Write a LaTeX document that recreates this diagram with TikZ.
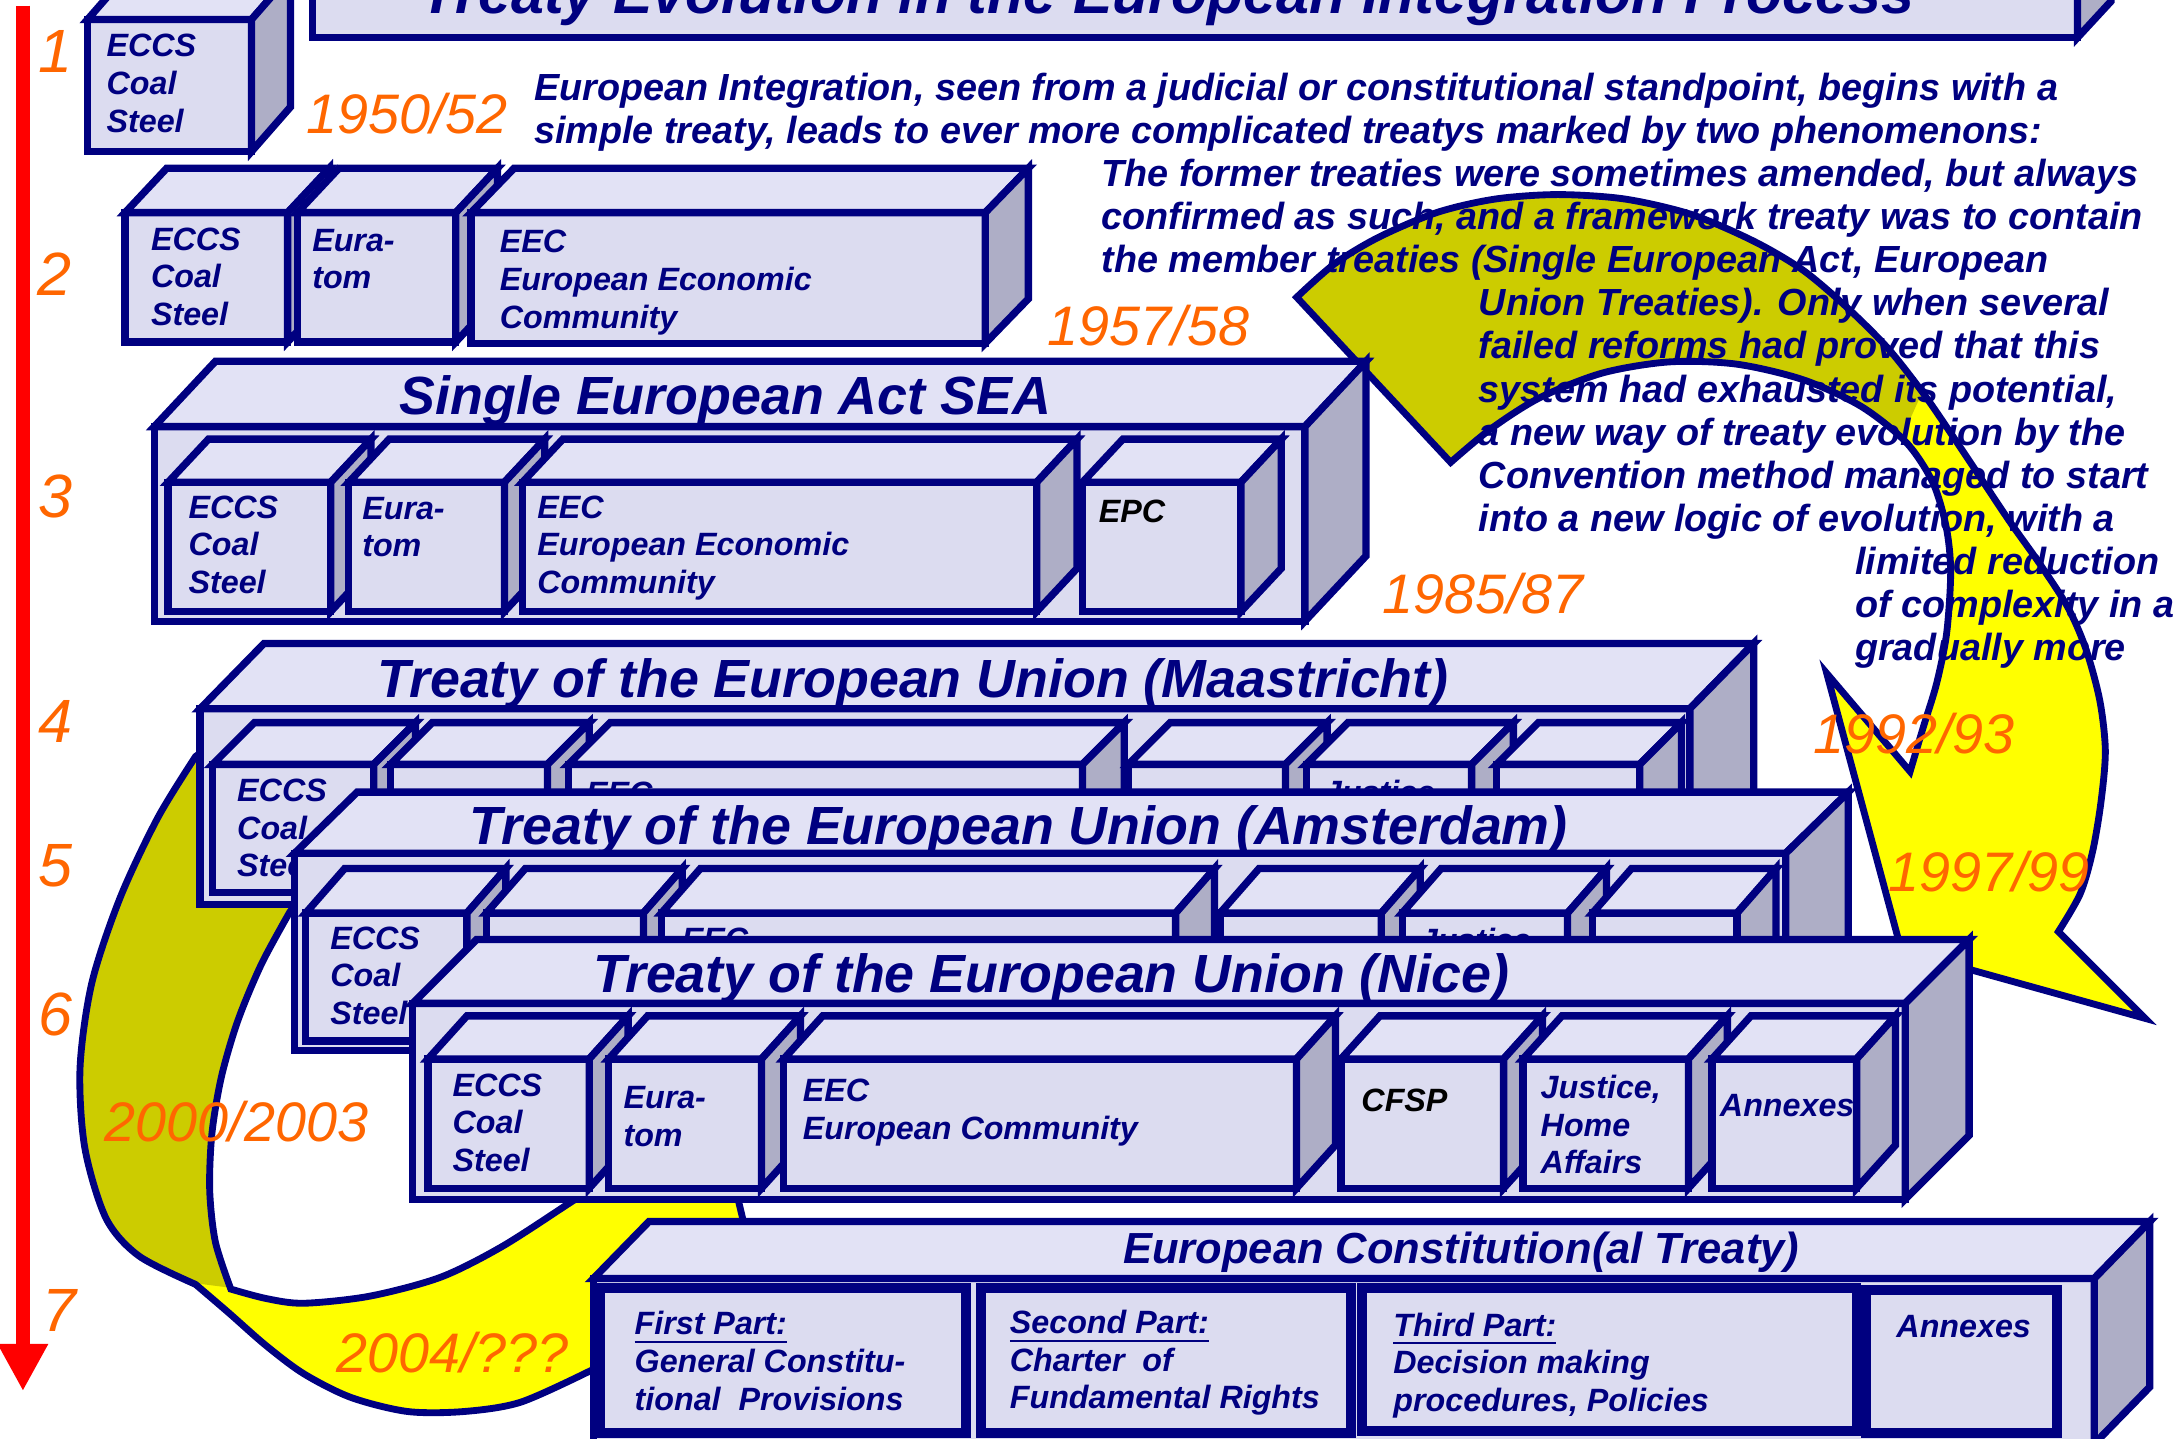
\documentclass[tikz,border=0pt]{standalone}
\usepackage{fontspec}
\setmainfont{Liberation Sans}
\usetikzlibrary{arrows.meta}
\definecolor{navy}{HTML}{000080}
\definecolor{boxfront}{HTML}{DCDCF0}
\definecolor{boxtop}{HTML}{E2E2F5}
\definecolor{boxside}{HTML}{AEAEC6}
\definecolor{bandolive}{HTML}{CCCC00}
\definecolor{bandyellow}{HTML}{FFFF00}
\definecolor{yearorange}{HTML}{FF6600}
\newcommand{\cuboid}[6]{%
  \filldraw[boxline, fill=boxfront] (#1,#2) rectangle (#3,#4);
  \filldraw[boxline, fill=boxtop] (#1,#2) -- ++(#5,-#6) -- (#3+#5,#2-#6) -- (#3,#2) -- cycle;
  \filldraw[boxline, fill=boxside] (#3,#2) -- ++(#5,-#6) -- (#3+#5,#4-#6) -- (#3,#4) -- cycle;
}
\begin{document}
\begin{tikzpicture}[x=0.01cm, y=-0.01cm,
    boxline/.style={draw=navy, line width=1.5pt},
    bandline/.style={draw=navy, line width=1.4pt},
    partbox/.style={draw=navy, fill=boxfront, line width=2pt},
    boxtext/.style={anchor=north west, inner sep=0pt, align=left, text=navy, font=\fontsize{6.6}{7.7}\selectfont\bfseries\itshape},
    headtext/.style={anchor=base, inner sep=0pt, text=navy, font=\fontsize{11}{13}\selectfont\bfseries\itshape},
    introtext/.style={anchor=base west, inner sep=0pt, text=navy, font=\fontsize{7.73}{9}\selectfont\bfseries\itshape},
    yeartext/.style={inner sep=0pt, text=yearorange, font=\fontsize{11.4}{13}\selectfont\itshape},
    stagetext/.style={inner sep=0pt, text=yearorange, font=\fontsize{12.5}{14}\selectfont\itshape},
    timeline/.style={draw=red, line width=2.8pt, -{Triangle[length=0.34cm, width=0.34cm]}}]
    \useasboundingbox (0,0) rectangle (1568,1035);
    \clip (0,0) rectangle (1568,1035);

    \def\rband{(933.1,213.9) -- plot[smooth] coordinates {(933.1,213.9) (960.4,189.8) (992.5,170.5) (1034.3,152.8) (1076.1,143.2) (1121.0,140.0) (1169.2,143.2) (1217.4,154.4) (1262.3,173.7) (1297.7,194.6) (1329.8,221.9) (1358.7,250.8) (1384,283) (1406,315) (1426,345) (1446,375) (1468,406) (1488,437) (1501,467) (1511,504) (1515,540) (1512,576) (1506,612) (1497,643) (1481.2,670.4)} -- (1543.6,732.8) -- (1368.2,683.9) -- (1314.5,484.5) -- (1374.5,555.2) -- plot[smooth] coordinates {(1374.5,555.2) (1384.1,522.9) (1393.6,491.7) (1400.8,455.7) (1403.7,411.4) (1400.5,379.3) (1390.8,347.1) (1371.6,318.2) (1339.4,292.5) (1297.7,273.3) (1249.5,262.0) (1201.3,260.4) (1153.1,268.4) (1108.2,286.1) (1072.8,308.6) (1043.9,332.7)} -- cycle}
    \fill[bandyellow] \rband;
    \begin{scope}
        \clip \rband;
        \fill[bandolive] (900,100) -- (1432.4,173.8) -- (1320.4,420.9) -- (900,421) -- cycle;
    \end{scope}
    \draw[bandline] \rband;

    \def\lband{(160,530) -- (140.7,544.4) -- plot[smooth] coordinates {(140.7,544.4) (113.5,588.5) (86.4,646.1) (66.1,707.2) (57.6,768.2) (61,825.8) (76.3,876.7) (100,903.8) (140.7,924.2)} -- plot[smooth] coordinates {(140.7,924.2) (164.4,944.5) (191.5,968.3) (218.7,988.6) (252.6,1005.6) (293.3,1015.7) (334,1015.7) (374.7,1009) (423.8,986.9)} -- (470,965) -- (565,935) -- (540,900) -- (528,850) -- (470,848) -- (420,859) -- plot[smooth] coordinates {(420,859) (408.6,866.5) (361.1,897.1) (317,919.1) (266.1,932.7) (218.7,937.8) (191.5,934.4) (166.1,927.6)} -- plot[smooth] coordinates {(166.1,927.6) (155,893.7) (150.9,856.4) (152.5,815.7) (159.3,775) (171.2,734.3) (188.2,693.6) (208.5,656.3)} -- (230,630) -- (200,560) -- cycle}
    \fill[bandyellow] \lband;
    \begin{scope}
        \clip \lband;
        \fill[bandolive] (0,300) -- (235,300) -- (235,935.5) -- (0,905.4) -- cycle;
    \end{scope}
    \draw[bandline] \lband;

    \cuboid{225}{-80}{1495}{27}{24}{26}
    \node[headtext, font=\fontsize{12.1}{14}\selectfont\bfseries\itshape] (title) at (840,10) {Treaty Evolution in the European Integration Process};

    \cuboid{63}{14}{181}{109}{28}{32}
    \node[boxtext] (eccsA) at (76,24) {ECCS\\Coal\\Steel};

    \cuboid{90}{153}{207}{246}{30}{32}
    \cuboid{214}{153}{328}{246}{30}{32}
    \cuboid{339}{153}{709}{247}{31}{32}
    \node[boxtext] (eccsB) at (108,163) {ECCS\\Coal\\Steel};
    \node[boxtext] (euratomB) at (224,164) {Eura-\\tom};
    \node[boxtext] (eecB) at (359,165) {EEC\\European Economic\\Community};

    \cuboid{111}{307}{939}{447}{44}{47}
    \node[headtext] (sea) at (522,298.6) {Single European Act SEA};
    \cuboid{121}{347}{238}{440}{29}{31}
    \cuboid{251}{347}{363}{440}{29}{31}
    \cuboid{376}{347}{746}{440}{29}{31}
    \cuboid{779}{347}{893}{440}{29}{31}
    \node[boxtext] (eccsC) at (135,356) {ECCS\\Coal\\Steel};
    \node[boxtext] (euratomC) at (260,357) {Eura-\\tom};
    \node[boxtext] (eecC) at (386,356) {EEC\\European Economic\\Community};
    \node[boxtext, text=black] (epcC) at (790,359) {EPC};

    \cuboid{144}{510}{1216}{651}{46}{47}
    \node[headtext] (maastricht) at (657,502) {Treaty of the European Union (Maastricht)};
    \cuboid{153}{550}{269}{642}{30}{30}
    \cuboid{281}{550}{394}{642}{30}{30}
    \cuboid{409}{550}{779}{642}{30}{30}
    \cuboid{812}{550}{925}{642}{30}{30}
    \cuboid{940}{550}{1059}{642}{30}{30}
    \cuboid{1077}{550}{1180}{642}{30}{30}
    \node[boxtext] (eccsD) at (170,560) {ECCS\\Coal\\Steel};
    \node[boxtext] (eecD) at (421,562) {EEC};
    \node[boxtext] (justiceD) at (952,561) {Justice,};

    \cuboid{212}{614}{1285}{756}{45}{44}
    \node[headtext] (amsterdam) at (733,607.5) {Treaty of the European Union (Amsterdam)};
    \cuboid{220}{657}{336}{749}{28}{32}
    \cuboid{350}{657}{463}{749}{28}{32}
    \cuboid{476}{657}{846}{749}{28}{32}
    \cuboid{878}{657}{994}{749}{28}{32}
    \cuboid{1009}{657}{1128}{749}{28}{32}
    \cuboid{1146}{657}{1250}{749}{28}{32}
    \node[boxtext] (eccsE) at (237,666) {ECCS\\Coal\\Steel};
    \node[boxtext] (eecE) at (490,667) {EEC};
    \node[boxtext] (justiceE) at (1021,667) {Justice,};

    \cuboid{297}{722}{1371}{863}{46}{46}
    \node[headtext] (nice) at (756.5,714) {Treaty of the European Union (Nice)};
    \cuboid{308}{762}{424}{855}{28}{31}
    \cuboid{438}{762}{548}{855}{28}{31}
    \cuboid{564}{762}{933}{855}{28}{31}
    \cuboid{965}{762}{1082}{855}{28}{31}
    \cuboid{1096}{762}{1215}{855}{28}{31}
    \cuboid{1232}{762}{1336}{855}{28}{31}
    \node[boxtext] (eccsF) at (325,772) {ECCS\\Coal\\Steel};
    \node[boxtext] (euratomF) at (448,781) {Eura-\\tom};
    \node[boxtext] (eecF) at (577,776) {EEC\\European Community};
    \node[boxtext, text=black] (cfspF) at (979,783) {CFSP};
    \node[boxtext] (justiceF) at (1108,773) {Justice,\\Home\\Affairs};
    \node[boxtext] (annexF) at (1237,787) {Annexes};

    \cuboid{427}{920}{1507}{1039}{40}{41}
    \node[headtext, font=\fontsize{8.9}{10}\selectfont\bfseries\itshape] (constitution) at (1051.5,909) {European Constitution(al Treaty)};
    \filldraw[partbox] (432,927) rectangle (695,1031);
    \filldraw[partbox] (706,927) rectangle (972,1031);
    \filldraw[partbox] (980,927) rectangle (1336,1030);
    \filldraw[partbox] (1343,928) rectangle (1480,1031);
    \node[boxtext] (partone) at (456,943) {\underline{First Part:}\\General Constitu-\\tional\ \ Provisions};
    \node[boxtext] (parttwo) at (726,942) {\underline{Second Part:}\\Charter\ \ of\\Fundamental Rights};
    \node[boxtext] (partthree) at (1002,944) {\underline{Third Part:}\\Decision making\\procedures, Policies};
    \node[boxtext] (partannex) at (1364,946) {Annexes};

    \node[introtext] (intro1) at (383.7,72.3) {European Integration, seen from a judicial or constitutional standpoint, begins with a};
    \node[introtext] (intro2) at (383.7,103.3) {simple treaty, leads to ever more complicated treatys marked by two phenomenons:};
    \node[introtext] (intro3) at (792,134.3) {The former treaties were sometimes amended, but always};
    \node[introtext] (intro4) at (792,165.3) {confirmed as such, and a framework treaty was to contain};
    \node[introtext] (intro5) at (792,196.3) {the member treaties (Single European Act, European};
    \node[introtext] (intro6) at (1063.5,227.3) {Union Treaties). Only when several};
    \node[introtext] (intro7) at (1063.5,258.3) {failed reforms had proved that this};
    \node[introtext] (intro8) at (1063.5,289.3) {system had exhausted its potential,};
    \node[introtext] (intro9) at (1063.5,320.3) {a new way of treaty evolution by the};
    \node[introtext] (intro10) at (1063.5,351.3) {Convention method managed to start};
    \node[introtext] (intro11) at (1063.5,382.3) {into a new logic of evolution, with a};
    \node[introtext] (intro12) at (1334.3,413.3) {limited reduction};
    \node[introtext] (intro13) at (1334.3,444.3) {of complexity in a};
    \node[introtext] (intro14) at (1334.3,475.3) {gradually more};

    \node[yeartext] (y1950) at (292.9,81.6) {1950/52};
    \node[yeartext] (y1957) at (826.4,234.5) {1957/58};
    \node[yeartext] (y1985) at (1067.2,427.4) {1985/87};
    \node[yeartext] (y1992) at (1377.5,527.7) {1992/93};
    \node[yeartext] (y1997) at (1431.4,627.2) {1997/99};
    \node[yeartext] (y2000) at (170.3,807.2) {2000/2003};
    \node[yeartext] (y2004) at (325.5,973.4) {2004/???};

    \coordinate (tstart) at (16.5,4);
    \coordinate (tend) at (16.5,1001);
    \draw[timeline] (tstart) -- (tend);
    \node[stagetext] (stage1) at (40,37) {1};
    \node[stagetext] (stage2) at (39,197) {2};
    \node[stagetext] (stage3) at (40,357) {3};
    \node[stagetext] (stage4) at (40,519) {4};
    \node[stagetext] (stage5) at (40,623) {5};
    \node[stagetext] (stage6) at (40,730) {6};
    \node[stagetext] (stage7) at (43,943) {7};
\end{tikzpicture}
\end{document}
